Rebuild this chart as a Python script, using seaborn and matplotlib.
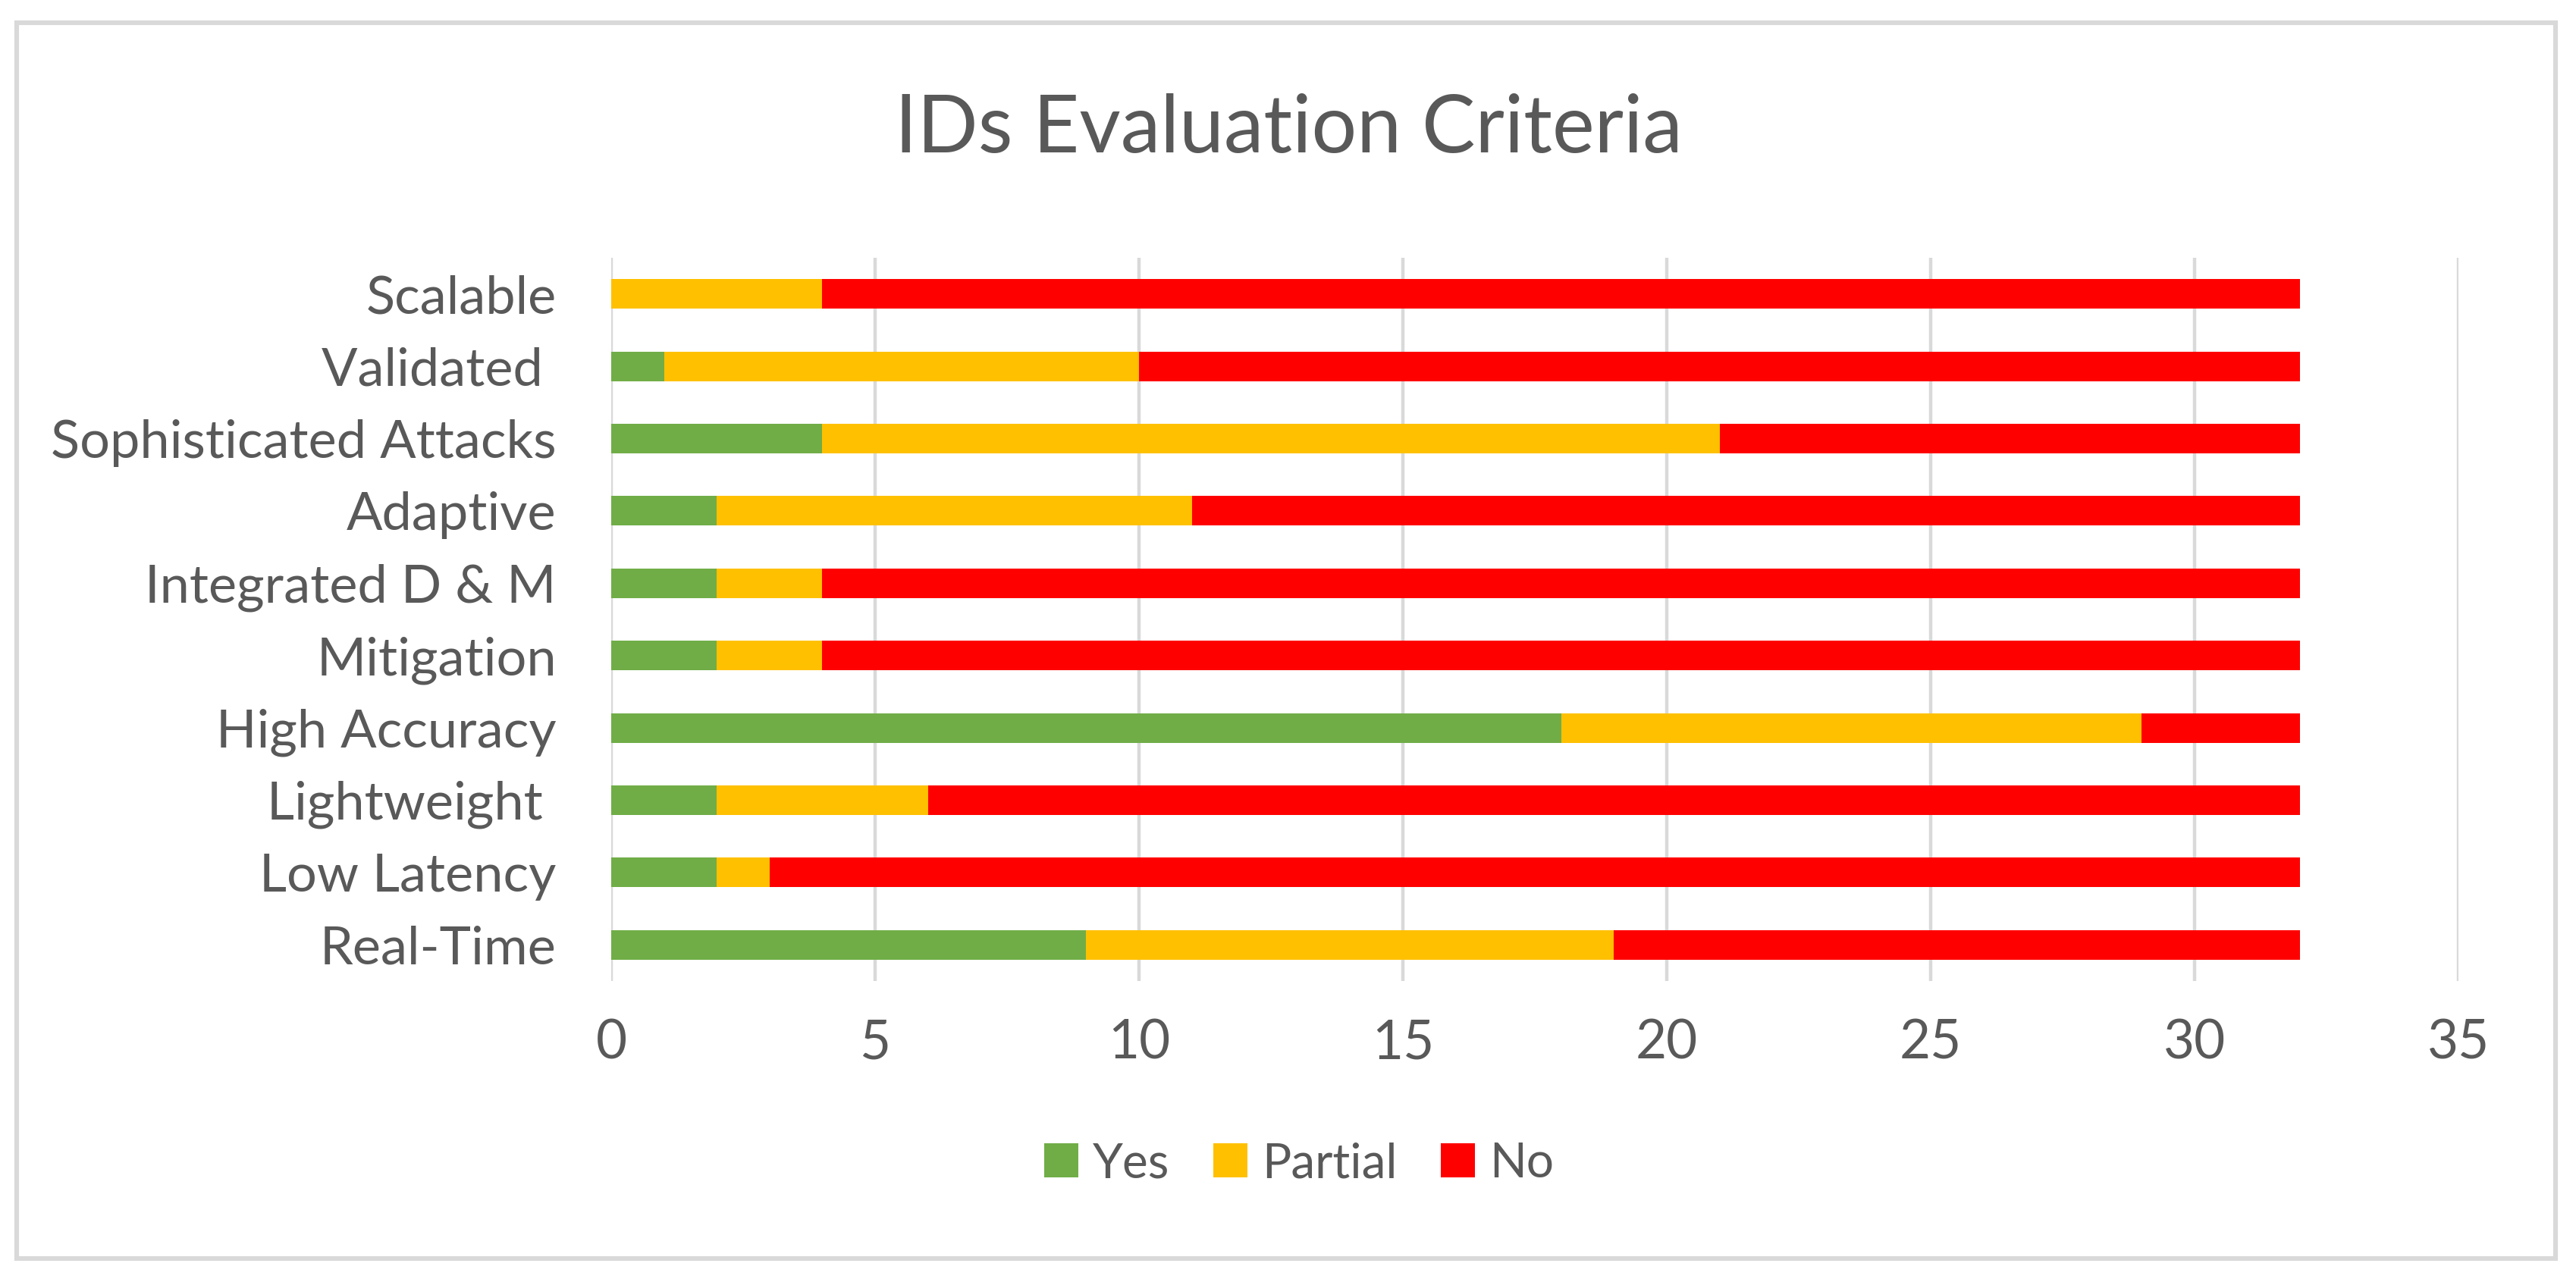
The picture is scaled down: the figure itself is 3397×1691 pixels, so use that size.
import numpy as np
import pandas as pd
import matplotlib.pyplot as plt
import seaborn as sns
from matplotlib.patches import Rectangle, Patch

# data (top to bottom)
criteria = ["Scalable", "Validated ", "Sophisticated Attacks", "Adaptive",
            "Integrated D & M", "Mitigation", "High Accuracy", "Lightweight ",
            "Low Latency", "Real-Time"]
yes = [0, 1, 4, 2, 2, 2, 18, 2, 2, 9]
partial = [4, 9, 17, 9, 2, 2, 11, 4, 1, 10]
no = [28, 22, 11, 21, 28, 28, 3, 26, 29, 13]
x_ticks = [0, 5, 10, 15, 20, 25, 30, 35]
series = ["Yes", "Partial", "No"]
colors = ["#70AD47", "#FFC000", "#FF0000"]

sns.set_style("white")
plt.rcParams['font.family'] = ['Lato', 'DejaVu Sans']
text_col = "#595959"
grid_col = "#D9D9D9"

df = pd.DataFrame({"criteria": criteria, "Yes": yes, "Partial": partial, "No": no})
df["yes_partial"] = df["Yes"] + df["Partial"]
df["total"] = df["yes_partial"] + df["No"]

fig = plt.figure(figsize=(16.99, 8.455), dpi=200)
ax = fig.add_axes([0.2372, 0.2348, 0.7169, 0.5641])

# stacked bars by overlaying cumulative totals
for col, c in zip(["total", "yes_partial", "Yes"], colors[::-1]):
    sns.barplot(data=df, x=col, y="criteria", color=c, width=0.41, saturation=1,
                errorbar=None, linewidth=0, orient="h", ax=ax)

ax.set_xlim(0, 35)
ax.set_ylim(9.5, -0.5)
ax.set_xticks(x_ticks)
ax.set_xlabel("")
ax.set_ylabel("")
ax.xaxis.grid(True, color=grid_col, lw=1.6)
ax.yaxis.grid(False)
ax.set_axisbelow(True)
for s in ax.spines.values():
    s.set_visible(False)
ax.tick_params(axis="y", length=0, pad=26, labelsize=25.3, labelcolor=text_col)
ax.tick_params(axis="x", length=0, pad=18, labelsize=25.5, labelcolor=text_col)

fig.text(0.5, 1 - 171 / 1691, "IDs Evaluation Criteria", ha="center", va="center",
         fontsize=38, color=text_col)

handles = [Patch(color=c, lw=0) for c in colors]
fig.legend(handles, series, loc="center", bbox_to_anchor=(1713 / 3398, 1 - 1535 / 1691),
           ncol=3, frameon=False, fontsize=23, handlelength=0.7, handleheight=0.7,
           handletextpad=0.3, columnspacing=0.9, labelcolor=text_col)

fig.patches.append(Rectangle((22 / 3398, 1 - 1660 / 1691), (3370 - 22) / 3398, (1660 - 30) / 1691,
                             transform=fig.transFigure, fill=False, edgecolor=grid_col, lw=2.2))

fig.savefig("out.png", dpi=200)
